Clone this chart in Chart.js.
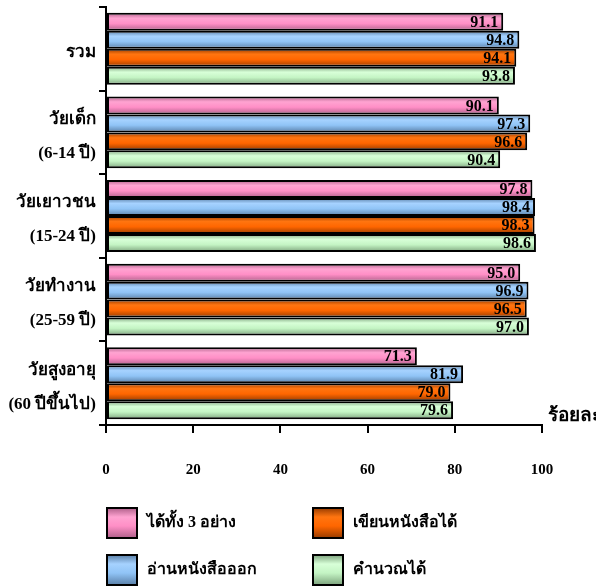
<!DOCTYPE html>
<html>
<head>
<meta charset="utf-8">
<script src="https://cdn.jsdelivr.net/npm/chart.js@4"></script>
<style>
  html, body { margin: 0; padding: 0; background: #fff; }
  #wrap { width: 596px; height: 587px; position: relative; }
</style>
</head>
<body>
<div id="wrap"><canvas id="chart"></canvas></div>
<script>
// categories (age groups)
const groups = [
    'รวม',
    ['วัยเด็ก', '(6-14 ปี)'],
    ['วัยเยาวชน', '(15-24 ปี)'],
    ['วัยทำงาน', '(25-59 ปี)'],
    ['วัยสูงอายุ', '(60 ปีขึ้นไป)']
];

// series values (percent)
const allThree  = [91.1, 90.1, 97.8, 95.0, 71.3];
const canRead   = [94.8, 97.3, 98.4, 96.9, 81.9];
const canWrite  = [94.1, 96.6, 98.3, 96.5, 79.0];
const canCount  = [93.8, 90.4, 98.6, 97.0, 79.6];

const seriesNames = ['ได้ทั้ง 3 อย่าง', 'อ่านหนังสือออก', 'เขียนหนังสือได้', 'คำนวณได้'];
const xTicks = [0, 20, 40, 60, 80, 100];
const unitLabel = 'ร้อยละ';

const FONT = "'Liberation Serif', 'DejaVu Serif', serif";
const CAT_PCT = 0.86;

// light / mid / dark shades per series
const shades = [
    ['#ffa3d1', '#ff8fc6', '#b0608a'],
    ['#a6d2ff', '#90c4f6', '#5a80a8'],
    ['#ff7510', '#ff6600', '#983c00'],
    ['#d8ffd8', '#c4f4c4', '#7ea47e']
];

function gradFill(g, s) {
    g.addColorStop(0, s[2]);
    g.addColorStop(0.3, s[0]);
    g.addColorStop(0.6, s[1]);
    g.addColorStop(1, s[2]);
    return g;
}

function barColor(ctx) {
    const chart = ctx.chart;
    const s = shades[ctx.datasetIndex];
    const yScale = chart.scales.y;
    if (!chart.chartArea || !yScale || ctx.type !== 'data') return s[1];
    const n = chart.data.datasets.length;
    const cat = (yScale.bottom - yScale.top) / groups.length;
    const size = cat * CAT_PCT / n;
    const c = yScale.getPixelForValue(ctx.dataIndex);
    const top = c - cat * CAT_PCT / 2 + size * ctx.datasetIndex;
    return gradFill(chart.ctx.createLinearGradient(0, top, 0, top + size), s);
}

const valueLabels = {
    id: 'valueLabels',
    afterDatasetsDraw(chart) {
        const c = chart.ctx;
        c.save();
        c.font = 'bold 16px ' + FONT;
        c.fillStyle = '#000';
        c.textAlign = 'right';
        c.textBaseline = 'middle';
        chart.data.datasets.forEach((ds, i) => {
            chart.getDatasetMeta(i).data.forEach((bar, j) => {
                c.fillText(ds.data[j].toFixed(1), bar.x - 5, bar.y + 1);
            });
        });
        // unit label at the end of the x axis
        const xs = chart.scales.x;
        c.textAlign = 'left';
        c.font = 'bold 19px ' + FONT;
        c.fillText(unitLabel, xs.right + 6, xs.top - 9);
        c.restore();
    }
};

const legendGrid = {
    id: 'legendGrid',
    afterDraw(chart) {
        const c = chart.ctx;
        const colX = [107, 313];
        const rowY = [508, 555];
        c.save();
        c.font = 'bold 16px ' + FONT;
        c.textBaseline = 'middle';
        c.textAlign = 'left';
        chart.data.datasets.forEach((ds, i) => {
            const x = colX[Math.floor(i / 2)];
            const y = rowY[i % 2];
            c.fillStyle = gradFill(c.createLinearGradient(0, y, 0, y + 30), shades[i]);
            c.fillRect(x, y, 30, 30);
            c.lineWidth = 2;
            c.strokeStyle = '#000';
            c.strokeRect(x, y, 30, 30);
            c.fillStyle = '#000';
            c.fillText(ds.label, x + 40, y + 15);
        });
        c.restore();
    }
};

const datasets = [allThree, canRead, canWrite, canCount].map((d, i) => ({
    label: seriesNames[i],
    data: d,
    backgroundColor: barColor,
    borderColor: '#000',
    borderWidth: 2,
    borderSkipped: false,
    categoryPercentage: CAT_PCT,
    barPercentage: 1
}));

new Chart(document.getElementById('chart'), {
    type: 'bar',
    data: { labels: groups, datasets: datasets },
    options: {
        indexAxis: 'y',
        responsive: true,
        maintainAspectRatio: false,
        animation: false,
        layout: { padding: { top: 7, right: 54, left: 0, bottom: 0 } },
        plugins: {
            legend: { display: false },
            tooltip: { enabled: false }
        },
        scales: {
            x: {
                min: 0,
                max: 100,
                afterBuildTicks: (scale) => { scale.ticks = xTicks.map(v => ({ value: v })); },
                afterFit: (scale) => {
                    scale.height = 162;
                    scale.paddingLeft = 0;
                    scale.paddingRight = 0;
                },
                border: { color: '#000', width: 2 },
                grid: { drawOnChartArea: false, color: '#000', lineWidth: 2, tickLength: 8 },
                ticks: {
                    color: '#000',
                    padding: 28,
                    font: { family: FONT, size: 15, weight: 'bold' }
                }
            },
            y: {
                afterFit: (scale) => {
                    scale.width = 106;
                    scale.paddingTop = 0;
                    scale.paddingBottom = 0;
                },
                border: { color: '#000', width: 2 },
                grid: { drawOnChartArea: false, color: '#000', lineWidth: 2, tickLength: 7 },
                ticks: {
                    color: '#000',
                    padding: 3,
                    labelOffset: 4,
                    font: { family: FONT, size: 17, weight: 'bold', lineHeight: 2 }
                }
            }
        }
    },
    plugins: [valueLabels, legendGrid]
});
</script>
</body>
</html>
